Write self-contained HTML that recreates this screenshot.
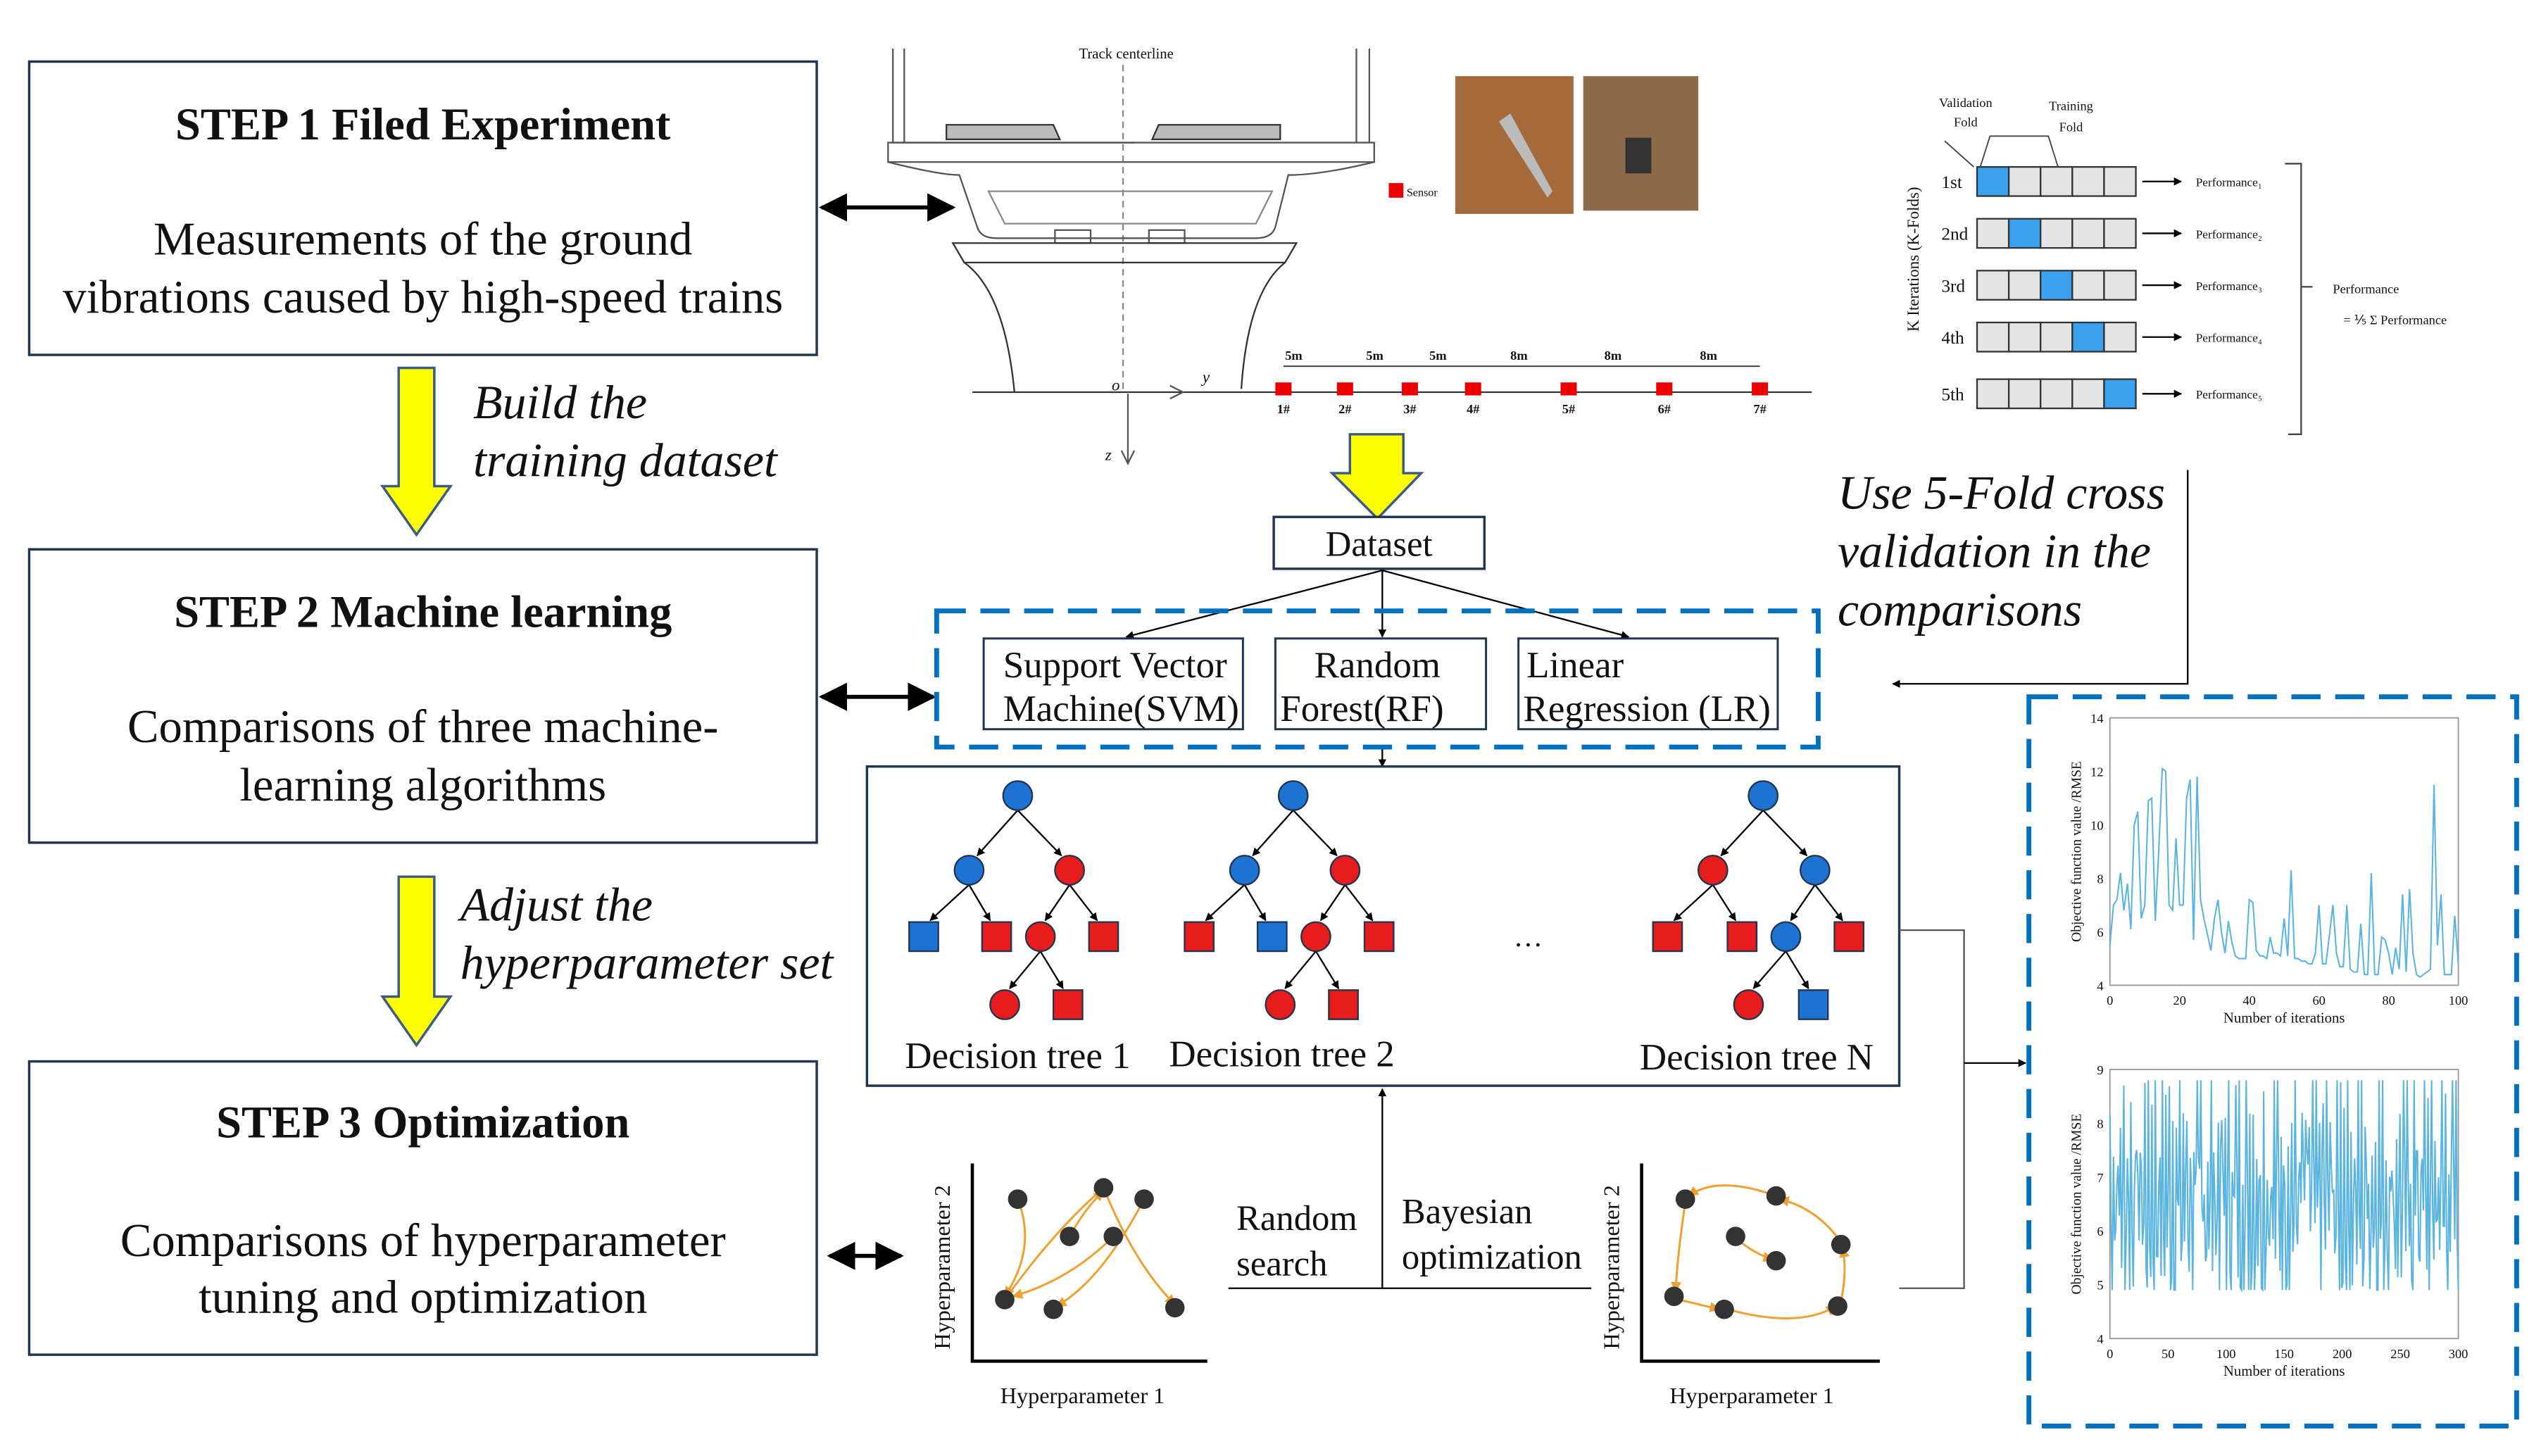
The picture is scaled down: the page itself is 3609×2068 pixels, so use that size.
<!DOCTYPE html>
<html><head><meta charset="utf-8"><style>
html,body{margin:0;padding:0;background:#fff;width:3609px;height:2068px;overflow:hidden}
svg{display:block}
text{font-family:"Liberation Serif",serif;fill:#111}
</style></head><body>
<svg id="s" width="3609" height="2068" viewBox="0 0 1568 898.5" xmlns="http://www.w3.org/2000/svg">
<defs>
<marker id="ah" viewBox="0 0 10 10" refX="9" refY="5" markerWidth="7" markerHeight="7" orient="auto-start-reverse"><path d="M0,0L10,5L0,10z" fill="#000"/></marker>
<marker id="as" viewBox="0 0 10 10" refX="9" refY="5" markerWidth="5" markerHeight="5" orient="auto-start-reverse"><path d="M0,0L10,5L0,10z" fill="#000"/></marker>
<marker id="ao" viewBox="0 0 10 10" refX="9" refY="5" markerWidth="5" markerHeight="5" orient="auto"><path d="M0,0L10,5L0,10z" fill="#f0a030"/></marker>
</defs>
<g fill="none" stroke="#1f3550" stroke-width="1.5">
<rect x="18" y="38" width="486" height="181"/>
<rect x="18" y="339" width="486" height="181"/>
<rect x="18" y="655" width="486" height="181"/>
</g>
<g text-anchor="middle" font-size="29">
<text x="261" y="86" font-weight="bold" font-size="28">STEP 1 Filed Experiment</text>
<text x="261" y="157">Measurements of the ground</text>
<text x="261" y="193">vibrations caused by high-speed trains</text>
<text x="261" y="387" font-weight="bold" font-size="28">STEP 2 Machine learning</text>
<text x="261" y="458">Comparisons of three machine-</text>
<text x="261" y="494">learning algorithms</text>
<text x="261" y="702" font-weight="bold" font-size="28">STEP 3 Optimization</text>
<text x="261" y="775">Comparisons of hyperparameter</text>
<text x="261" y="810">tuning and optimization</text>
</g>
<g stroke="#000" stroke-width="2.5" marker-start="url(#ah)" marker-end="url(#ah)">
<line x1="507" y1="128" x2="588" y2="128"/>
<line x1="507" y1="430" x2="576" y2="430"/>
<line x1="512" y1="775" x2="556" y2="775"/>
</g>
<g fill="#ffff00" stroke="#3a5a8a" stroke-width="1.5">
<path d="M246,227H268V300H278L257,330L236,300H246Z"/>
<path d="M246,541H268V615H278L257,645L236,615H246Z"/>
<path d="M833,268H866V292H877L850,320L822,292H833Z"/>
</g>
<g font-size="29.5" font-style="italic">
<text x="292" y="258">Build the</text>
<text x="292" y="294">training dataset</text>
<text x="284" y="568">Adjust the</text>
<text x="284" y="604">hyperparameter set</text>
<text x="1134" y="314">Use 5-Fold cross</text>
<text x="1134" y="350">validation in the</text>
<text x="1134" y="386">comparisons</text>
</g>
<g fill="none" stroke="#555" stroke-width="1">
<text x="695" y="36" font-size="9" text-anchor="middle" stroke="none" fill="#333">Track centerline</text>
<line x1="693" y1="40" x2="693" y2="243" stroke-dasharray="4,3" stroke="#888"/>
<path d="M551,30V88H700 M558,30V88 M837,30V88 M845,30V88"/>
<path d="M548,88H848V100H548Z"/>
<path d="M548,100 Q580,108 592,108 L603,140 Q605,147 615,147 H775 Q785,147 787,140 L795,108 Q815,108 848,100" />
<path d="M610,118 H785 L775,138 H620 Z" stroke="#888"/>
<path d="M584,77H650L654,86H584Z M715,77H790V86H711Z" fill="#bbb" stroke="#333"/>
<rect x="651" y="142" width="22" height="8"/><rect x="709" y="142" width="22" height="8"/>
<path d="M588,150H800L793,162H595Z" stroke="#333"/>
<path d="M595,162 Q620,180 626,242 M793,162 Q770,180 766,240" stroke="#333"/>
<line x1="600" y1="242" x2="1118" y2="242" stroke="#333"/>
<line x1="696" y1="243" x2="696" y2="285"/>
<path d="M692,278L696,286L700,278 M722,238L730,242L722,246"/>
</g>
<text x="686" y="241" font-size="10" font-style="italic">o</text>
<text x="742" y="236" font-size="10" font-style="italic">y</text>
<text x="682" y="284" font-size="10" font-style="italic">z</text>
<g id="sens" fill="#e00"></g>
<g font-size="8" font-weight="bold" fill="#222">
<text x="793" y="222">5m</text><text x="843" y="222">5m</text><text x="882" y="222">5m</text><text x="932" y="222">8m</text><text x="990" y="222">8m</text><text x="1049" y="222">8m</text>
</g>
<line x1="792" y1="226" x2="1086" y2="226" stroke="#333" stroke-width="0.8"/>
<rect x="857" y="113" width="9" height="9" fill="#e00"/>
<text x="868" y="121" font-size="7" fill="#444">Sensor</text>
<rect x="898" y="47" width="73" height="85" fill="#a56a3c"/>
<path d="M925,75L932,70L958,118L955,122Z" fill="#bbb"/>
<rect x="977" y="47" width="71" height="83" fill="#8c6a4a"/>
<rect x="1003" y="85" width="16" height="22" fill="#333"/>
<rect x="786" y="319" width="130" height="32" fill="#fff" stroke="#1f3550" stroke-width="1.5"/>
<text x="851" y="343" font-size="22" text-anchor="middle">Dataset</text>
<g stroke="#000" stroke-width="1" marker-end="url(#as)">
<line x1="853" y1="352" x2="695" y2="393"/><line x1="853" y1="352" x2="853" y2="393"/><line x1="853" y1="352" x2="1005" y2="393"/>
<line x1="853" y1="461" x2="853" y2="473"/>
<line x1="853" y1="795" x2="853" y2="672"/>
</g>
<rect x="578" y="377" width="544" height="84" fill="none" stroke="#0070c0" stroke-width="3" stroke-dasharray="18,9"/>
<g fill="#fff" stroke="#1f3550" stroke-width="1.3">
<rect x="607" y="394" width="160" height="56"/><rect x="787" y="394" width="130" height="56"/><rect x="937" y="394" width="160" height="56"/>
</g>
<g font-size="23">
<text x="619" y="418">Support Vector</text><text x="619" y="445">Machine(SVM)</text>
<text x="811" y="418">Random</text><text x="790" y="445">Forest(RF)</text>
<text x="942" y="418">Linear</text><text x="940" y="445">Regression (LR)</text>
</g>
<rect x="535" y="473" width="637" height="197" fill="none" stroke="#1f3550" stroke-width="1.5"/>
<g id="trees"></g>
<text x="943" y="584" font-size="18" text-anchor="middle">…</text>
<g font-size="23" text-anchor="middle">
<text x="628" y="659">Decision tree 1</text><text x="791" y="658">Decision tree 2</text><text x="1084" y="660">Decision tree N</text>
</g>
<line x1="758" y1="795" x2="982" y2="795" stroke="#000" stroke-width="1"/>
<g font-size="22"><text x="763" y="759">Random</text><text x="763" y="787">search</text><text x="865" y="755">Bayesian</text><text x="865" y="783">optimization</text></g>
<g stroke="#000" stroke-width="2" fill="none"><path d="M600,718V840H745"/><path d="M1013,718V840H1160"/></g>
<g font-size="14" text-anchor="middle">
<text x="668" y="866">Hyperparameter 1</text><text x="1081" y="866">Hyperparameter 1</text>
<text transform="translate(586,782) rotate(-90)">Hyperparameter 2</text>
<text transform="translate(999,782) rotate(-90)">Hyperparameter 2</text>
</g>
<g stroke="#f0a030" stroke-width="1.3" fill="none" marker-end="url(#ao)">
<path d="M628,740Q640,770 620,800"/><path d="M620,802Q650,760 681,733"/><path d="M681,733Q700,780 725,805"/><path d="M660,763Q670,745 681,735"/><path d="M706,740Q680,790 652,806"/><path d="M687,763Q660,790 625,800"/>
<path d="M1096,738Q1060,725 1042,738"/><path d="M1040,742Q1035,775 1034,797"/><path d="M1036,802L1061,808"/><path d="M1066,808Q1110,820 1133,806"/><path d="M1136,803Q1140,785 1137,770"/><path d="M1135,765Q1120,745 1098,740"/><path d="M1072,765Q1085,775 1094,777"/>
</g>
<g fill="#333">
<circle cx="628" cy="740" r="6"/><circle cx="681" cy="733" r="6"/><circle cx="706" cy="740" r="6"/><circle cx="660" cy="763" r="6"/><circle cx="687" cy="763" r="6"/><circle cx="620" cy="802" r="6"/><circle cx="650" cy="808" r="6"/><circle cx="725" cy="807" r="6"/>
<circle cx="1040" cy="740" r="6"/><circle cx="1096" cy="738" r="6"/><circle cx="1071" cy="763" r="6"/><circle cx="1136" cy="768" r="6"/><circle cx="1096" cy="778" r="6"/><circle cx="1033" cy="800" r="6"/><circle cx="1064" cy="808" r="6"/><circle cx="1134" cy="806" r="6"/>
</g>
<g stroke="#555" stroke-width="1" fill="none">
<path d="M1172,574H1212V795H1172"/>
<path d="M1350,290V422H1168" stroke="#000" marker-end="url(#as)"/>
<line x1="1212" y1="656" x2="1250" y2="656" stroke="#000" marker-end="url(#as)"/>
</g>
<g id="kf"></g>
<g font-size="8" fill="#333" text-anchor="middle">
<text x="1213" y="66">Validation</text><text x="1213" y="78">Fold</text>
<text x="1278" y="68">Training</text><text x="1278" y="81">Fold</text>
<text x="1460" y="181">Performance</text><text x="1478" y="200">= ⅕ Σ Performance</text>
</g>
<path d="M1200,87L1218,103 M1222,103L1228,84H1264L1270,103" stroke="#444" fill="none" stroke-width="0.8"/>
<path d="M1410,101H1420V268H1412 M1420,177H1427" stroke="#444" fill="none" stroke-width="1"/>
<text transform="translate(1184,160) rotate(-90)" font-size="10" text-anchor="middle" fill="#444">K Iterations (K-Folds)</text>
<rect x="1252" y="430" width="301" height="450" fill="none" stroke="#0070c0" stroke-width="3" stroke-dasharray="18,9"/>
<g id="ch"></g>
</svg>
<script>
var NS="http://www.w3.org/2000/svg";
function el(p,t,a,txt){var e=document.createElementNS(NS,t);for(var k in a)e.setAttribute(k,a[k]);if(txt!=null)e.textContent=txt;document.getElementById(p).appendChild(e);return e;}
[[792,"1#"],[830,"2#"],[870,"3#"],[909,"4#"],[968,"5#"],[1027,"6#"],[1086,"7#"]].forEach(function(s){el("sens","rect",{x:s[0]-5,y:236,width:10,height:8});el("sens","text",{x:s[0]-4,y:255,"font-size":8,"font-weight":"bold",fill:"#222"},s[1]);});
var B="#1e73d2",R="#e81c1c";
function tree(n){n.edges.forEach(function(e){el("trees","line",{x1:e[0],y1:e[1],x2:e[2],y2:e[3],stroke:"#000","stroke-width":1,"marker-end":"url(#as)"});});
n.nodes.forEach(function(d){if(d[3]=="c")el("trees","circle",{cx:d[0],cy:d[1],r:9,fill:d[2],stroke:"#1f3550"});else el("trees","rect",{x:d[0]-9,y:d[1]-9,width:18,height:18,fill:d[2],stroke:"#1f3550"});});}
function mk(o,c){var r=[o,491],a=[o-30,537],b=[o+32,537];
var L=[[o-58,578],[o-13,578],[o+14,578],[o+53,578]],g=[[o-8,620],[o+31,620]];
var edges=[[r[0],r[1]+9,a[0]+5,a[1]-9],[r[0],r[1]+9,b[0]-5,b[1]-9],[a[0],a[1]+9,L[0][0]+4,L[0][1]-10],[a[0],a[1]+9,L[1][0]-4,L[1][1]-10],[b[0],b[1]+9,L[2][0]+3,L[2][1]-10],[b[0],b[1]+9,L[3][0]-4,L[3][1]-10],[L[2][0],L[2][1]+9,g[0][0]+3,g[0][1]-10],[L[2][0],L[2][1]+9,g[1][0]-3,g[1][1]-10]];
var pts=[r,a,b,L[0],L[1],L[2],L[3],g[0],g[1]];var sh=["c","c","c","s","s","c","s","c","s"];
tree({edges:edges,nodes:pts.map(function(p,i){return [p[0],p[1],c[i],sh[i]];})});}
mk(628,[B,B,R,B,R,R,R,R,R]);mk(798,[B,B,R,R,B,R,R,R,R]);
(function(){var o=1088,a=[1057,537],b=[1120,537];var L=[[1029,578],[1075,578],[1102,578],[1141,578]],g=[[1079,620],[1119,620]];
var edges=[[o,500,a[0]+5,528],[o,500,b[0]-5,528],[a[0],546,L[0][0]+4,568],[a[0],546,L[1][0]-4,568],[b[0],546,L[2][0]+3,568],[b[0],546,L[3][0]-4,568],[L[2][0],587,g[0][0]+3,610],[L[2][0],587,g[1][0]-3,610]];
tree({edges:edges,nodes:[[o,491,B,"c"],[a[0],537,R,"c"],[b[0],537,B,"c"],[1029,578,R,"s"],[1075,578,R,"s"],[1102,578,B,"c"],[1141,578,R,"s"],[1079,620,R,"c"],[1119,620,B,"s"]]});})();
var rows=[103,135,167,199,234],lab=["1st","2nd","3rd","4th","5th"];
rows.forEach(function(y,i){for(var j=0;j<5;j++)el("kf","rect",{x:1220+j*19.6,y:y,width:19.6,height:18,fill:j==i?"#3aa0f0":"#e4e4e4",stroke:"#333","stroke-width":1});
el("kf","text",{x:1198,y:y+13,"font-size":11,fill:"#333"},lab[i]);
el("kf","line",{x1:1322,y1:y+9,x2:1346,y2:y+9,stroke:"#000","stroke-width":1,"marker-end":"url(#as)"});
el("kf","text",{x:1355,y:y+12,"font-size":7.5,fill:"#333"},"Performance"+String.fromCharCode(8321+i));});
function chart(x0,y0,x1,y1,ymin,ymax,yt,xmax,xt,data){
el("ch","rect",{x:x0,y:y0,width:x1-x0,height:y1-y0,fill:"#fff",stroke:"#999","stroke-width":0.8});
yt.forEach(function(v){var y=y1-(v-ymin)/(ymax-ymin)*(y1-y0);el("ch","text",{x:x0-4,y:y+3,"font-size":8,"text-anchor":"end",fill:"#555"},v);});
xt.forEach(function(v){var x=x0+v/xmax*(x1-x0);el("ch","text",{x:x,y:y1+12,"font-size":8,"text-anchor":"middle",fill:"#555"},v);});
el("ch","text",{x:(x0+x1)/2,y:y1+23,"font-size":9,"text-anchor":"middle",fill:"#555"},"Number of iterations");
el("ch","text",{transform:"translate("+(x0-18)+","+((y0+y1)/2)+") rotate(-90)","font-size":8.5,"text-anchor":"middle",fill:"#555"},"Objective function value /RMSE");
var d="";data.forEach(function(v,i){var x=x0+i/(data.length-1)*(x1-x0),y=y1-(v-ymin)/(ymax-ymin)*(y1-y0);d+=(i?"L":"M")+x.toFixed(1)+","+y.toFixed(1);});
el("ch","path",{d:d,fill:"none",stroke:"#5ab4e0","stroke-width":0.9});}
var d1=[5.5,7,7.2,8.2,6.8,7.8,6.1,10,10.5,6.5,7,10.9,11,6.4,9,12.1,12,7,6.8,9.5,7,7,11,11.7,5.7,11.8,7.2,6.5,5.9,5.3,6.5,7.2,6,5.2,6.4,5.6,5.1,5,5,5,7.2,7.1,5.3,5.1,5.1,5,5.8,5.2,5.2,5.1,6.5,5.1,8.3,5,5,4.9,4.9,4.8,4.8,5.2,7,4.8,4.8,5.9,7,5.2,4.7,4.7,7,4.6,4.5,4.5,6.3,4.4,4.4,8.2,4.4,4.4,5.8,5.7,5.2,4.4,5.4,4.6,7.4,4.5,7.6,5.2,4.4,4.3,4.4,4.5,4.6,11.5,5.5,7.4,4.4,4.4,4.4,6.6,4.8];
var d2=[],s=7;for(var i=0;i<300;i++){s=(s*9301+49297)%233280;var r=s/233280;var base=(i%3==0)?8.2:6;d2.push(Math.min(8.8,Math.max(4.9,base+(r-0.5)*3.2)));}
chart(1302,443,1517,608,4,14,[4,6,8,10,12,14],100,[0,20,40,60,80,100],d1);
chart(1302,660,1517,826,4,9,[4,5,6,7,8,9],300,[0,50,100,150,200,250,300],d2);
</script>
</body></html>
